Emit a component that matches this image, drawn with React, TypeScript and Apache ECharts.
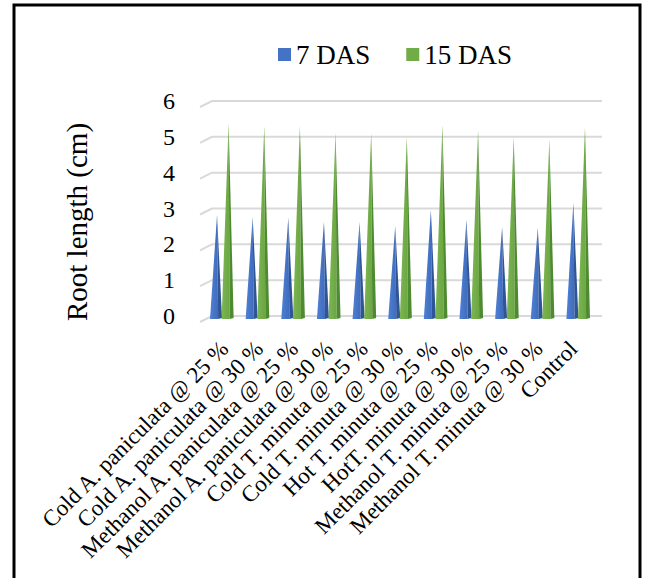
import React, { useEffect, useRef } from "react";
import * as echarts from "echarts";

const categories = [
  "Cold A. paniculata @ 25 %",
  "Cold A. paniculata @ 30 %",
  "Methanol A. paniculata @ 25 %",
  "Methanol A. paniculata @ 30 %",
  "Cold T. minuta @ 25 %",
  "Cold T. minuta @ 30 %",
  "Hot T. minuta @ 25 %",
  "HotT. minuta @ 30 %",
  "Methanol T. minuta @ 25 %",
  "Methanol T. minuta @ 30 %",
  "Control",
];
const das7 = [2.9, 2.85, 2.83, 2.71, 2.71, 2.59, 3.04, 2.78, 2.57, 2.55, 3.24];
const das15 = [5.45, 5.38, 5.38, 5.19, 5.19, 5.08, 5.41, 5.27, 5.08, 5.0, 5.35];
const yTicks = [0, 1, 2, 3, 4, 5, 6];
const seriesNames = ["7 DAS", "15 DAS"];

const FONT = "Liberation Serif";

function coneRenderer(offset: number, light: string, main: string, side: string) {
  return (params: any, api: any) => {
    const i = api.value(0);
    const v = api.value(1);
    const base = api.coord([i, 0]);
    const top = api.coord([i, v]);
    const w = 6;
    const cx = base[0] + offset;
    const by = base[1] + 3;
    const ty = top[1] + 3;
    const tx = cx + 1;
    return {
      type: "group",
      children: [
        {
          type: "polygon",
          shape: { points: [[cx - w, by], [cx + w * 0.35, by], [tx, ty]] },
          style: {
            fill: new echarts.graphic.LinearGradient(0, 0, 1, 0, [
              { offset: 0, color: light },
              { offset: 1, color: main },
            ]),
          },
        },
        {
          type: "polygon",
          shape: { points: [[cx + w * 0.35, by], [cx + w, by - 1], [tx, ty]] },
          style: { fill: side },
        },
      ],
    };
  };
}

export default function App() {
  const ref = useRef<HTMLDivElement>(null);
  useEffect(() => {
    const chart = echarts.init(ref.current!, null, { renderer: "svg" });
    chart.setOption({
      animation: false,
      backgroundColor: "#ffffff",
      textStyle: { fontFamily: FONT },
      legend: {
        data: seriesNames,
        left: 273,
        top: 36,
        icon: "rect",
        itemWidth: 13,
        itemHeight: 13,
        itemGap: 36,
        textStyle: { fontFamily: FONT, fontSize: 27, color: "#000" },
      },
      grid: [
        { left: 204, right: 50, top: 101, bottom: 262 },
        { left: 207, right: 55, top: 101, bottom: 262 },
      ],
      xAxis: [
        {
          type: "category",
          data: categories,
          gridIndex: 0,
          axisLine: { show: false },
          axisTick: { show: false },
          axisLabel: { show: false },
        },
        {
          type: "category",
          data: categories,
          gridIndex: 1,
          axisLine: { show: false },
          axisTick: { show: false },
          axisLabel: {
            interval: 0,
            rotate: 45,
            margin: 29,
            fontFamily: FONT,
            fontSize: 23,
            color: "#000",
          },
        },
      ],
      yAxis: [
        {
          type: "value",
          gridIndex: 0,
          min: 0,
          max: 6,
          interval: 1,
          axisLine: { show: false },
          axisTick: { show: false },
          splitLine: { show: false },
          axisLabel: { margin: 29, fontFamily: FONT, fontSize: 24, color: "#000" },
        },
        {
          type: "value",
          gridIndex: 1,
          min: 0,
          max: 6,
          interval: 1,
          show: false,
        },
      ],
      graphic: [
        {
          type: "rect",
          shape: { x: 14, y: 5, width: 626, height: 620 },
          style: { fill: "none", stroke: "#000", lineWidth: 3 },
        },
        {
          type: "text",
          x: 77,
          y: 222,
          rotation: Math.PI / 2,
          style: {
            text: "Root length (cm)",
            fontFamily: FONT,
            fontSize: 29,
            fill: "#000",
            textAlign: "center",
            textVerticalAlign: "middle",
          },
        },
      ],
      series: [
        {
          type: "custom",
          name: "grid",
          silent: true,
          z: 1,
          xAxisIndex: 0,
          yAxisIndex: 0,
          data: yTicks.map((v) => [0, v]),
          encode: { x: 0, y: 1 },
          renderItem: (params: any, api: any) => {
            const y = api.coord([0, api.value(1)])[1];
            const cs = params.coordSys;
            return {
              type: "polyline",
              shape: {
                points: [
                  [cs.x - 4, y + 6],
                  [cs.x + 8, y],
                  [cs.x + cs.width + 6, y],
                ],
              },
              style: { stroke: "#d9d9d9", lineWidth: 2, fill: null },
            };
          },
        },
        {
          type: "custom",
          name: seriesNames[0],
          z: 3,
          xAxisIndex: 0,
          yAxisIndex: 0,
          itemStyle: { color: "#4472C4" },
          data: das7.map((v, i) => [i, v]),
          encode: { x: 0, y: 1 },
          renderItem: coneRenderer(-5.8, "#4F80D6", "#3F6BBA", "#2F5597"),
        },
        {
          type: "custom",
          name: seriesNames[1],
          z: 3,
          xAxisIndex: 0,
          yAxisIndex: 0,
          itemStyle: { color: "#70AD47" },
          data: das15.map((v, i) => [i, v]),
          encode: { x: 0, y: 1 },
          renderItem: coneRenderer(5.8, "#7BB653", "#6BA642", "#4E8A30"),
        },
      ],
    });
    return () => chart.dispose();
  }, []);
  return (
    <div
      ref={ref}
      style={{ position: "absolute", left: 0, top: 0, width: 646, height: 578 }}
    />
  );
}
